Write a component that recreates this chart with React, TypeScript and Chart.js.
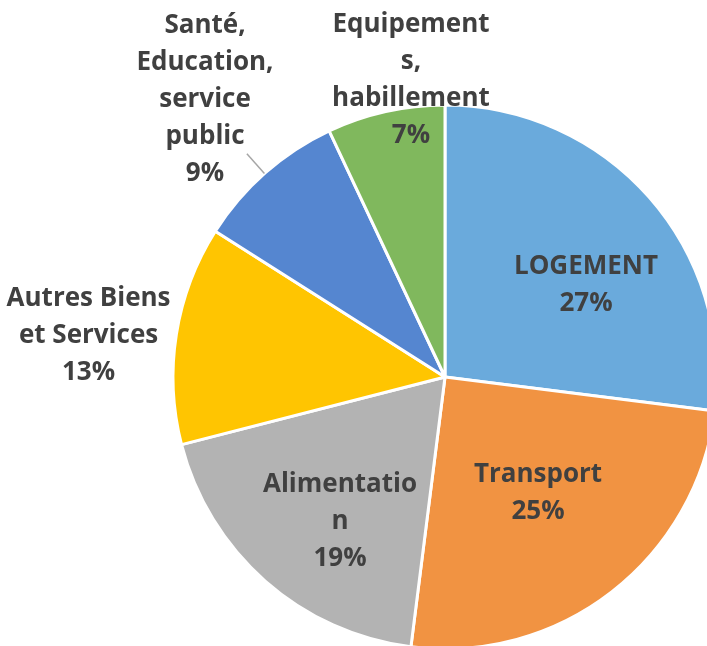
import React, { useEffect, useRef } from "react";
import { Chart, registerables } from "chart.js";

Chart.register(...registerables);

const categories = [
  "LOGEMENT",
  "Transport",
  "Alimentation",
  "Autres Biens et Services",
  "Santé, Education, service public",
  "Equipements, habillement",
];
const values = [27, 25, 19, 13, 9, 7];
const percentLabels = ["27%", "25%", "19%", "13%", "9%", "7%"];
const labelLines = [
  ["LOGEMENT"],
  ["Transport"],
  ["Alimentatio", "n"],
  ["Autres Biens", "et Services"],
  ["Santé,", "Education,", "service", "public"],
  ["Equipement", "s,", "habillement"],
];
const colors = ["#6aaadc", "#f19342", "#b3b3b3", "#ffc501", "#5586d0", "#80b85d"];

// label placement: angle (deg clockwise from top), distance as fraction of radius
const labelAngle = [56.3, 140.8, 216.3, 276.9, 319.3, 353.5];
const labelDist = [0.623, 0.541, 0.652, 1.32, 1.353, 1.106];

const labelPlugin = {
  id: "sliceLabels",
  afterDraw(chart: any) {
    const meta = chart.getDatasetMeta(0);
    const arc = meta.data[0];
    if (!arc) return;
    const cx = arc.x;
    const cy = arc.y;
    const r = arc.outerRadius;
    const ctx = chart.ctx;
    ctx.save();
    // leader line for Santé label
    const la = (318.4 * Math.PI) / 180;
    ctx.strokeStyle = "#a6a6a6";
    ctx.lineWidth = 1.5;
    ctx.beginPath();
    ctx.moveTo(cx + r * 1.097 * Math.sin(la), cy - r * 1.097 * Math.cos(la));
    ctx.lineTo(cx + r * 1.0 * Math.sin(la), cy - r * 1.0 * Math.cos(la));
    ctx.stroke();

    ctx.fillStyle = "#404040";
    ctx.font = "bold 26px 'Open Sans'";
    ctx.textAlign = "center";
    ctx.textBaseline = "middle";
    const lh = 37;
    for (let i = 0; i < categories.length; i++) {
      const a = (labelAngle[i] * Math.PI) / 180;
      const x = cx + r * labelDist[i] * Math.sin(a);
      const y = cy - r * labelDist[i] * Math.cos(a) + 2;
      const lines = [...labelLines[i], percentLabels[i]];
      const y0 = y - ((lines.length - 1) * lh) / 2;
      lines.forEach((t, j) => ctx.fillText(t, x, y0 + j * lh));
    }
    ctx.restore();
  },
};

export default function App() {
  const ref = useRef<HTMLCanvasElement | null>(null);
  useEffect(() => {
    if (!ref.current) return;
    const chart = new Chart(ref.current, {
      type: "pie",
      data: {
        labels: categories,
        datasets: [
          {
            data: values,
            backgroundColor: colors,
            borderColor: "#ffffff",
            borderWidth: 3,
          },
        ],
      },
      options: {
        responsive: false,
        animation: false,
        radius: 272,
        layout: { padding: { left: 172, right: 12, top: 104, bottom: 10 } },
        plugins: {
          legend: { display: false },
          tooltip: { enabled: false },
        },
      } as any,
      plugins: [labelPlugin],
    });
    return () => chart.destroy();
  }, []);
  return (
    <div style={{ position: "absolute", left: 0, top: 0, width: 730, height: 660, overflow: "hidden" }}>
      <canvas ref={ref} width={730} height={660} style={{ width: 730, height: 660 }} />
    </div>
  );
}
